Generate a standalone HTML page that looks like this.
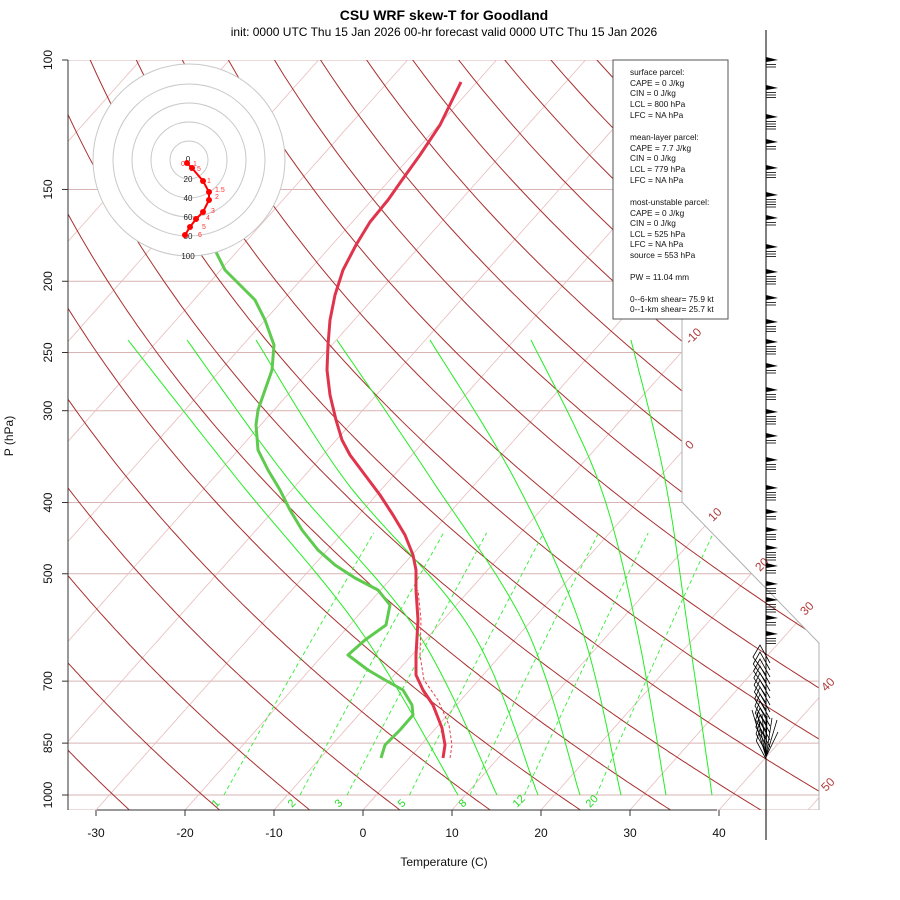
<!DOCTYPE html>
<html><head><meta charset="utf-8"><style>
body{margin:0;background:#fff}
svg{display:block;font-family:"Liberation Sans",sans-serif}
</style></head><body>
<svg id="s" width="900" height="900" viewBox="0 0 900 900" xmlns="http://www.w3.org/2000/svg">
<defs><clipPath id="c"><polygon points="68,60 682,60 682,502 819,643 819,810 68,810"/></clipPath></defs>
<rect width="900" height="900" fill="#fff"/>
<g id="grid" clip-path="url(#c)"></g>
<g id="prof"></g>
<g id="fg"></g>
</svg>
<script>
const NS="http://www.w3.org/2000/svg";
function el(p,t,a){const e=document.createElementNS(NS,t);for(const k in a)e.setAttribute(k,a[k]);p.appendChild(e);return e;}
function Y(p){return 795-319.2*Math.log(1000/p);}
function X(T,p){return 363+8.9*T+0.89*(810-Y(p));}
const G=document.getElementById('grid'),P=document.getElementById('prof'),F=document.getElementById('fg');
function pl(g,pts,st){el(g,'polyline',Object.assign({points:pts.map(q=>q[0].toFixed(1)+','+q[1].toFixed(1)).join(' '),fill:'none'},st));}
function cr(pts){const o=[];const n=pts.length;for(let i=0;i<n-1;i++){const p0=pts[Math.max(0,i-1)],p1=pts[i],p2=pts[i+1],p3=pts[Math.min(n-1,i+2)];for(let t=0;t<1;t+=0.05){const t2=t*t,t3=t2*t;const f=(a,b,c,d)=>0.5*((2*b)+(-a+c)*t+(2*a-5*b+4*c-d)*t2+(-a+3*b-3*c+d)*t3);o.push([f(p0[0],p1[0],p2[0],p3[0]),f(p0[1],p1[1],p2[1],p3[1])]);}}o.push(pts[n-1]);return o;}
// pressure lines
[100,150,200,250,300,400,500,700,850,1000].forEach(p=>{el(G,'line',{x1:68,x2:820,y1:Y(p),y2:Y(p),stroke:'#d8b4b4','stroke-width':1});});
el(G,'line',{x1:68,x2:820,y1:810,y2:810,stroke:'#d8b4b4','stroke-width':1});
// isotherms
for(let T=-120;T<=60;T+=10){const pts=[];for(let p=1050;p>=95;p-=5)pts.push([X(T,p),Y(p)]);pl(G,pts,{stroke:'#e9bcbc','stroke-width':0.8});}
// dry adiabats
const p954=1000*Math.exp(-15/319.2);
const T0=(396-363)/8.9+273.15;const th0=T0*Math.pow(1000/p954,0.286)+3;
for(let k=-12;k<=20;k++){const th=th0+10*k;const pts=[];for(let p=1050;p>=95;p-=5){const T=th*Math.pow(p/1000,0.286)-273.15;pts.push([X(T,p),Y(p)]);}pl(G,pts,{stroke:'#a8302f','stroke-width':1});}
// mixing ratio
[1,2,3,5,8,12,20].forEach(w=>{const pts=[];for(let p=1000;p>=440;p-=10){const e=w*p/(622+w);const l=Math.log(e/6.112);const Td=243.5*l/(17.67-l);pts.push([X(Td,p),Y(p)]);}pl(G,pts,{stroke:'#33ee33','stroke-width':0.9,'stroke-dasharray':'4,3'});});
// moist adiabats (traced)
const ma=[[128,238,360,458],[187,289,416,497],[256,345,471,538],[337,432,527,580],[430,515,582,621],[531,598,637,666],[631,665,688,712]];
ma.forEach(a=>{pl(G,cr([[a[0],340],[a[1],480],[a[2],630],[a[3],795]]),{stroke:'#22ee22','stroke-width':1});});
// boundary
pl(F,[[682,60],[682,502],[819,643],[819,810]],{stroke:'#b0b0b0','stroke-width':1});
// profiles
const tv=[[450,758],[452,745],[449,725],[438,700],[424,680],[420,655],[421,620],[418,590]];
pl(P,tv,{stroke:'#e8404a','stroke-width':1,'stroke-dasharray':'3,2'});
const tt=[[443,758],[445,745],[442,728],[433,705],[423,690],[416,675],[416,655],[418,620],[416,590],[416,570],[413,555],[405,535],[393,515],[380,495],[365,475],[350,455],[342,440],[336,420],[330,395],[327,370],[328,345],[330,320],[335,295],[343,270],[356,245],[370,222],[388,200],[402,180],[420,155],[440,125],[461,82]];
pl(P,tt,{stroke:'#e0344c','stroke-width':3,'stroke-linejoin':'round'});
const td=[[381,758],[385,745],[400,730],[413,715],[412,705],[403,690],[385,680],[368,670],[348,655],[365,640],[386,625],[390,605],[378,590],[355,578],[335,565],[318,550],[302,530],[290,510],[280,490],[268,470],[258,450],[256,425],[258,410],[265,390],[272,370],[274,345],[265,320],[255,300],[240,285],[225,270],[215,250],[205,230]];
pl(P,td,{stroke:'#5ecb4e','stroke-width':3,'stroke-linejoin':'round'});
// hodograph
el(F,'circle',{cx:189,cy:160,r:96,fill:'#fff',stroke:'#c8c8c8'});
[19,38,57,76].forEach(r=>el(F,'circle',{cx:189,cy:160,r:r,fill:'none',stroke:'#c8c8c8'}));
[['0',162],['20',182],['40',201],['60',220],['80',239],['100',259]].forEach(a=>{const t=el(F,'text',{x:188,y:a[1],'font-size':8,'text-anchor':'middle',fill:'#222'});t.textContent=a[0];});
const hp=[[187,163],[192,168],[203,181],[209,192],[209,200],[203,212],[196,219],[190,227],[185,235]];
pl(F,hp,{stroke:'#f00','stroke-width':2});
hp.forEach(q=>el(F,'circle',{cx:q[0],cy:q[1],r:3,fill:'#f00'}));
[['0',181,166],['1',193,166],['5',197,171],['1',207,183],['1.5',215,192],['2',215,199],['3',211,213],['4',206,220],['5',202,229],['6',198,237]].forEach(a=>{const t=el(F,'text',{x:a[1],y:a[2],'font-size':7,fill:'#f33'});t.textContent=a[0];});
// text box
el(F,'rect',{x:613,y:60,width:115,height:259,fill:'#fff',stroke:'#555'});
const lines=[['surface parcel:',75],['CAPE = 0 J/kg',86],['CIN = 0 J/kg',96],['LCL = 800 hPa',107],['LFC = NA hPa',118],['mean-layer parcel:',140],['CAPE = 7.7 J/kg',151],['CIN = 0 J/kg',161],['LCL = 779 hPa',172],['LFC = NA hPa',183],['most-unstable parcel:',205],['CAPE = 0 J/kg',216],['CIN = 0 J/kg',226],['LCL = 525 hPa',237],['LFC = NA hPa',247],['source = 553 hPa',258],['PW =  11.04 mm',280],['0--6-km shear= 75.9 kt',302],['0--1-km shear= 25.7 kt',312]];
lines.forEach(a=>{const t=el(F,'text',{x:630,y:a[1],'font-size':8.3,fill:'#111'});t.textContent=a[0];});
// isotherm labels
[['-10',690,345],['0',690,450],['10',713,522],['20',760,572],['30',805,616],['40',826,692],['50',826,792]].forEach(a=>{const t=el(F,'text',{x:a[1],y:a[2],'font-size':12,fill:'#b03a3a',transform:`rotate(-45 ${a[1]} ${a[2]})`});t.textContent=a[0];});
// mixing ratio labels
[['1',216],['2',292],['3',339],['5',402],['8',463],['12',517],['20',590]].forEach(a=>{const t=el(F,'text',{x:a[1],y:808,'font-size':11,fill:'#22dd22',transform:`rotate(-45 ${a[1]} 808)`});t.textContent=a[0];});
// axes
el(F,'line',{x1:68,x2:68,y1:60,y2:810,stroke:'#333'});
[100,150,200,250,300,400,500,700,850,1000].forEach(p=>{const y=Y(p);el(F,'line',{x1:62,x2:68,y1:y,y2:y,stroke:'#333'});const t=el(F,'text',{x:52,y:y,'font-size':12,'text-anchor':'middle',fill:'#111',transform:`rotate(-90 52 ${y})`});t.textContent=p;});
el(F,'line',{x1:97,x2:717,y1:810,y2:810,stroke:'#333'});
for(let T=-30;T<=40;T+=10){const x=363+8.9*T;el(F,'line',{x1:x,x2:x,y1:810,y2:816,stroke:'#333'});const t=el(F,'text',{x:x,y:837,'font-size':12,'text-anchor':'middle',fill:'#111'});t.textContent=T;}
const xl=el(F,'text',{x:444,y:866,'font-size':12,'text-anchor':'middle',fill:'#111'});xl.textContent='Temperature (C)';
const yl=el(F,'text',{x:13,y:436,'font-size':12,'text-anchor':'middle',fill:'#111',transform:'rotate(-90 13 436)'});yl.textContent='P (hPa)';
const t1=el(F,'text',{x:444,y:20,'font-size':14,'font-weight':'bold','text-anchor':'middle',fill:'#000'});t1.textContent='CSU WRF skew-T for Goodland';
const t2=el(F,'text',{x:444,y:36,'font-size':12,'text-anchor':'middle',fill:'#000'});t2.textContent='init: 0000 UTC Thu 15 Jan 2026    00-hr forecast valid 0000 UTC Thu 15 Jan 2026';
// wind barbs
el(F,'line',{x1:766,x2:766,y1:30,y2:840,stroke:'#000'});
const fl=[60,88,117,142,168,195,218,247,272,298,322,342,366,390,412,436,460,488,512,530,548,566,584,600,618,634];
fl.forEach((y,i)=>{el(F,'polygon',{points:`766,${y-3} 778,${y} 766,${y+2}`,fill:'#000'});for(let k=1;k<=Math.min(4,2+i%3);k++)el(F,'line',{x1:766,x2:776,y1:y+2+k*2.5,y2:y+2+k*2.5,stroke:'#000','stroke-width':0.8});});
for(let y=645;y<=730;y+=7){el(F,'polyline',{points:`766,${y+30} ${753+(y-645)*0.04},${y+12} ${760},${y} 770,${y+18}`,fill:'none',stroke:'#000','stroke-width':0.8});}
for(let i=0;i<6;i++){el(F,'line',{x1:766,y1:757,x2:752+i*5,y2:710+i*2,stroke:'#000','stroke-width':0.8});}
el(F,'line',{x1:766,y1:757,x2:778,y2:732,stroke:'#000','stroke-width':0.8});
</script>
</body></html>
